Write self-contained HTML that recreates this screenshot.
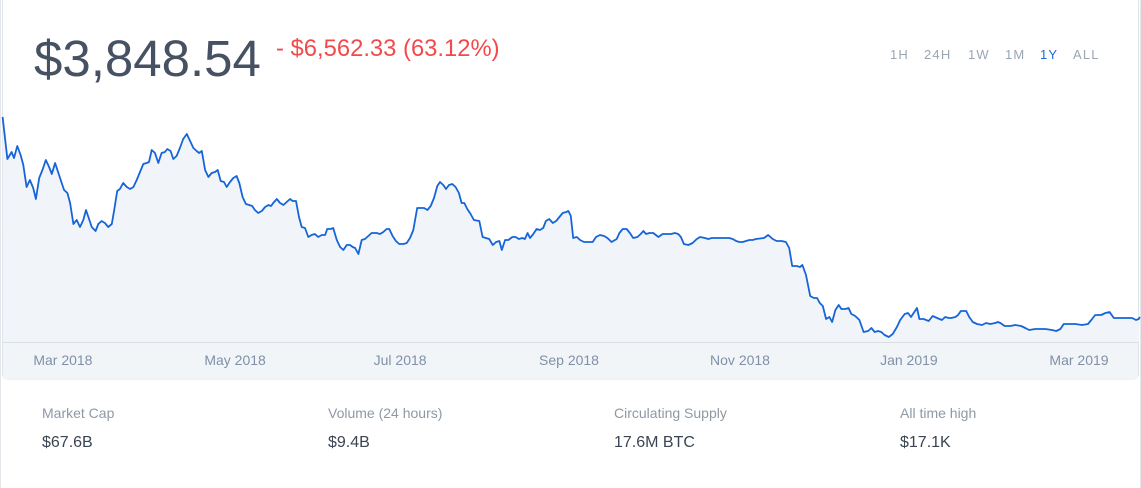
<!DOCTYPE html>
<html><head><meta charset="utf-8">
<style>
html,body{margin:0;padding:0;background:#fff;width:1141px;height:488px;overflow:hidden;font-family:"Liberation Sans",sans-serif;}
svg{position:absolute;left:0;top:0;}
</style></head>
<body>
<svg id="c" width="1141" height="488" viewBox="0 0 1141 488">
  <rect x="0.5" y="-4" width="1140" height="500" rx="5" fill="#fff" stroke="#e3e7ec"/>
  <rect x="2.5" y="-4" width="1136" height="383" rx="5" fill="#fff" stroke="#dfe4ea"/>
  <rect x="3" y="342" width="1135" height="37" fill="#f2f5f8"/>
  <line x1="3" y1="342.5" x2="1138" y2="342.5" stroke="#d9dee5"/>
  <text x="34" y="76" font-size="51" fill="#465263">$3,848.54</text>
  <text x="276" y="56" font-size="23.8" fill="#f4494b">- $6,562.33 (63.12%)</text>
  <g font-size="13" fill="#9ba6b3" letter-spacing="1.2">
    <text x="890" y="59">1H</text>
    <text x="924" y="59">24H</text>
    <text x="968" y="59">1W</text>
    <text x="1005" y="59">1M</text>
    <text x="1040" y="59" fill="#1d6ae0">1Y</text>
    <text x="1073" y="59">ALL</text>
  </g>
  <g id="plot"></g>
  <g id="ticks" font-size="14" fill="#7f90a8" text-anchor="middle"></g>
  <g font-size="14" fill="#8d99a6">
    <text x="42" y="418">Market Cap</text>
    <text x="328" y="418">Volume (24 hours)</text>
    <text x="614" y="418">Circulating Supply</text>
    <text x="900" y="418">All time high</text>
  </g>
  <g font-size="16" fill="#3b4452">
    <text x="42" y="447">$67.6B</text>
    <text x="328" y="447">$9.4B</text>
    <text x="614" y="447">17.6M BTC</text>
    <text x="900" y="447">$17.1K</text>
  </g>
</svg>
<script>
const days=[0.2,1.8,3.2,4,5.1,6.2,7.1,8.2,9.3,10.4,11.3,12.4,13.6,14.6,15.7,16.6,17.7,18.8,19.9,20.7,21.8,22.7,23.8,24.9,26,27.1,28,28.8,29.9,31.2,32.1,33.2,34.3,35.4,36.6,37.4,38.4,39.3,40.4,41.6,42.7,43.8,44.9,46,47.1,48.2,49,49.9,51,52.1,53.2,54.3,55.1,56.2,57.1,58.2,59.3,60.4,61.6,62.7,63.8,64.9,65.7,66.6,67.7,68.8,69.9,71,71.9,72.9,74,74.9,76,77.1,78.2,79.1,80.2,81.3,82.4,83.4,84.3,85.4,86.6,87.7,88.8,89.7,90.4,91.6,92.7,93.8,94.9,96,96.9,98,99,99.9,101,102.1,103.2,104.3,105.4,106.6,107.7,108.4,109.6,110.4,111.6,112.7,113.8,114.9,116,116.9,117.7,118.8,119.9,121,122.1,123.2,124.9,126,127.1,128.2,129.1,130.2,131.3,132.4,133.8,134.9,136,137.1,138.4,139.6,140.7,141.8,142.9,144,145.1,146,147.1,148,149,150.1,151.2,152.3,153.2,154.1,155.1,156.2,157.3,159.1,160.2,161.3,162.4,163.6,164.7,165.8,166.6,167.7,168.8,170.1,171.2,172.3,173.4,174.3,175.2,176,177.1,178.2,179.3,180.4,181.3,182.4,183.6,184.7,185.8,186.9,188.1,188.8,189.6,190.4,191.6,192.7,194,195.4,196.9,198,199.3,200.7,201.8,203.2,204.9,205.8,206.9,208.2,209.3,210.4,211.8,212.9,213.8,214.7,215.8,217.1,218.8,220.2,221.6,223,224.3,225.4,226.3,227.3,228.8,230.2,231.6,232.7,234.3,235.4,236.6,237.4,239.1,240.8,242.4,243.6,244.7,245.8,246.9,248,249.1,250.2,251.3,254,255.4,256.9,258.2,259.9,261.3,262.4,263.4,264.9,266,266.8,268,269.4,270.6,271.7,272.6,273.6,274.7,275.8,276.7,277.8,278.9,279.8,281.1,282.2,283.1,284.4,285.8,287.2,288.7,289.8,290.9,292,293.1,294.2,295.6,296.9,298.3,299.4,300.9,302,303,304.1,305,305.8,307.2,308.9,310.2,311.7,313.3,314.4,315.6,316.4,317.8,318.7,319.6,321.4,322.4,323.6,325,326.7,328,329.4,331.1,332,332.8,334.2,336.1,337.8,339.7,341.1,342.4,344.4,347.8,350,351.4,352.8,353.9,355.6,357.8,360,362,363.1,364.4,366.4,367.8,369.2,370.6,372.2,374.4,376.7,378,378.9,379.3];
const prices=[9570,8310,8520,8340,8700,8430,8130,7470,7680,7440,7110,7740,8010,8280,8070,7860,8190,7890,7590,7380,7290,6990,6360,6480,6270,6480,6780,6570,6270,6150,6360,6450,6390,6270,6360,6780,7350,7410,7590,7470,7410,7470,7680,7920,8160,8190,8220,8580,8490,8190,8490,8520,8610,8550,8310,8400,8640,8910,9060,8850,8640,8550,8490,8550,7980,7770,7890,7920,7980,7650,7620,7470,7620,7740,7800,7590,7170,6960,6930,6900,6780,6690,6750,6870,6930,6900,6990,7110,6990,6930,7020,7110,7050,7050,6570,6270,6240,5970,6030,6060,5970,6030,6030,6210,6210,6240,5880,5670,5580,5730,5730,5670,5640,5460,5880,5910,6000,6090,6090,6060,6120,6210,6210,6000,5850,5760,5760,5790,5940,6180,6840,6840,6840,6780,6900,7140,7500,7620,7530,7410,7530,7560,7470,7290,6990,6990,6810,6660,6480,6450,5970,5940,5910,5730,5820,5850,5580,5880,5880,5970,5970,5910,5940,5910,6090,5940,6060,6210,6180,6240,6450,6510,6390,6450,6570,6690,6720,6750,6600,5940,5970,5880,5820,5820,5820,5970,6030,6000,5940,5820,5910,6090,6210,6210,6090,5940,5970,6060,6150,6060,6090,6090,5970,6060,6060,6060,6090,6060,5970,5760,5730,5790,5910,5970,5940,5910,5940,5940,5940,5940,5940,5910,5850,5820,5820,5850,5880,5880,5910,5940,6030,5910,5850,5850,5820,5640,5100,5100,5070,5130,4830,4200,4140,4140,3990,3900,3510,3570,3420,3780,3930,3810,3810,3840,3660,3600,3480,3120,3150,3240,3120,3150,3120,3030,2970,3060,3270,3480,3660,3690,3570,3720,3840,3510,3510,3450,3600,3540,3480,3570,3540,3540,3570,3630,3750,3750,3570,3420,3360,3330,3390,3360,3390,3420,3390,3300,3300,3330,3300,3240,3180,3210,3210,3180,3150,3210,3360,3360,3360,3330,3360,3480,3630,3630,3690,3720,3540,3540,3540,3540,3480,3510,3570];
const tickDays=[20.3,77.7,132.7,189,246,302.3,359];
const tickLabels=["Mar 2018","May 2018","Jul 2018","Sep 2018","Nov 2018","Jan 2019","Mar 2019"];

const NS="http://www.w3.org/2000/svg";
const xMin=0,xMax=379,pxL=2,pxR=1139;
function xs(d){return pxL+(d-xMin)/(xMax-xMin)*(pxR-pxL);}
const vMin=0,vMax=10000,pyBase=436,pyTop=436-10000/30;
function ys(v){return pyBase+(v-vMin)/(vMax-vMin)*(pyTop-pyBase);}

const plot=document.getElementById('plot');
let d="";
for(let i=0;i<days.length;i++){d+=(i?"L":"M")+xs(days[i]).toFixed(1)+","+ys(prices[i]).toFixed(1);}
const area=document.createElementNS(NS,'path');
area.setAttribute('d',"M3,342L"+d.slice(1)+"L1139,342Z");
area.setAttribute('fill','#f1f4f8');


plot.appendChild(area);
const line=document.createElementNS(NS,'path');
line.setAttribute('d',d);
line.setAttribute('fill','none');
line.setAttribute('stroke','#1565d8');
line.setAttribute('stroke-width','1.8');
line.setAttribute('stroke-linejoin','round');


plot.appendChild(line);

const tg=document.getElementById('ticks');
for(let i=0;i<tickDays.length;i++){
  const t=document.createElementNS(NS,'text');
  t.setAttribute('x',xs(tickDays[i]).toFixed(1));
  t.setAttribute('y','365');
  t.textContent=tickLabels[i];
  
  
  tg.appendChild(t);
}
</script>
</body></html>
